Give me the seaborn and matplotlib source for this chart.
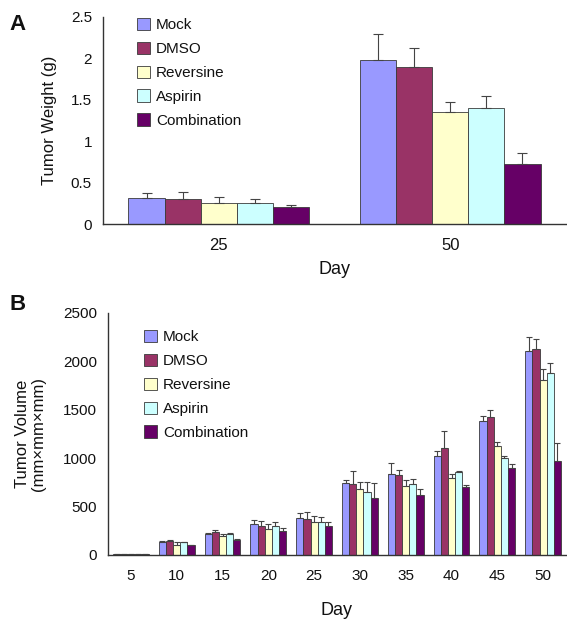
import numpy as np
import pandas as pd
import matplotlib
matplotlib.use("Agg")
import matplotlib.pyplot as plt
import seaborn as sns
from matplotlib.patches import Patch

# ---------------- data ----------------
groups = ["Mock", "DMSO", "Reversine", "Aspirin", "Combination"]
colors = ["#9999FF", "#993366", "#FFFFCC", "#CCFFFF", "#660066"]

# Panel A: tumor weight (g)
days_a = ["25", "50"]
weight_mock = [0.32, 1.98]
weight_dmso = [0.30, 1.90]
weight_reversine = [0.25, 1.35]
weight_aspirin = [0.25, 1.40]
weight_combination = [0.20, 0.73]
weight_err_mock = [0.056, 0.32]
weight_err_dmso = [0.09, 0.23]
weight_err_reversine = [0.08, 0.125]
weight_err_aspirin = [0.05, 0.145]
weight_err_combination = [0.03, 0.125]

# Panel B: tumor volume (mm x mm x mm)
days_b = ["5", "10", "15", "20", "25", "30", "35", "40", "45", "50"]
vol_mock = [10, 134, 213, 316, 386, 744, 840, 1023, 1381, 2108]
vol_dmso = [10, 148, 234, 303, 375, 737, 823, 1106, 1429, 2128]
vol_reversine = [8, 107, 200, 272, 341, 678, 709, 799, 1126, 1805]
vol_aspirin = [10, 134, 217, 296, 341, 654, 730, 861, 1002, 1877]
vol_combination = [8, 100, 155, 244, 303, 589, 620, 699, 902, 971]
vol_err_mock = [2, 10, 14, 45, 44, 34, 114, 55, 55, 141]
vol_err_dmso = [2, 10, 27, 48, 69, 134, 59, 172, 66, 104]
vol_err_reversine = [2, 31, 13, 44, 59, 73, 62, 34, 42, 113]
vol_err_aspirin = [2, 4, 10, 48, 48, 97, 59, 7, 17, 107]
vol_err_combination = [2, 7, 10, 31, 35, 151, 58, 24, 38, 190]

weights = [weight_mock, weight_dmso, weight_reversine, weight_aspirin, weight_combination]
weight_errs = [weight_err_mock, weight_err_dmso, weight_err_reversine,
               weight_err_aspirin, weight_err_combination]
vols = [vol_mock, vol_dmso, vol_reversine, vol_aspirin, vol_combination]
vol_errs = [vol_err_mock, vol_err_dmso, vol_err_reversine,
            vol_err_aspirin, vol_err_combination]


def long_df(days, series):
    rows = []
    for g, vals in zip(groups, series):
        for d, v in zip(days, vals):
            rows.append({"Day": d, "Group": g, "value": v})
    return pd.DataFrame(rows)


sns.set_style("white")
plt.rcParams["font.family"] = ["Liberation Sans", "DejaVu Sans"]
plt.rcParams["text.color"] = "#111111"
plt.rcParams["axes.labelcolor"] = "#111111"
plt.rcParams["xtick.color"] = "#111111"
plt.rcParams["ytick.color"] = "#111111"

fig = plt.figure(figsize=(5.67, 6.19), dpi=100)
ax_a = fig.add_axes([103 / 567, 1 - 224 / 619, (566 - 103) / 567, 207 / 619])
ax_b = fig.add_axes([108 / 567, 1 - 555 / 619, (566 - 108) / 567, 242 / 619])

palette = dict(zip(groups, colors))
axis_col = "#333333"


def draw(ax, days, series, errs, ylim, yticks, yticklabels, capsize, xtick_fs, ytick_fs,
         xlabelpad):
    df = long_df(days, series)
    sns.barplot(data=df, x="Day", y="value", hue="Group", order=days,
                hue_order=groups, palette=palette, width=0.78, gap=0,
                errorbar=None, edgecolor="#3a3a3a", linewidth=0.6,
                saturation=1, legend=False, ax=ax)
    for cont, err in zip(ax.containers, errs):
        xs = [b.get_x() + b.get_width() / 2 for b in cont]
        ys = [b.get_height() for b in cont]
        ax.errorbar(xs, ys, yerr=[np.zeros(len(err)), err], fmt="none",
                    ecolor="#444444", elinewidth=0.8, capsize=capsize,
                    capthick=0.8, zorder=1)
    n = len(days)
    ax.set_xlim(-0.5, n - 0.5)
    ax.set_ylim(*ylim)
    ax.set_yticks(yticks)
    ax.set_yticklabels(yticklabels, fontsize=ytick_fs)
    ax.set_xticks(np.arange(-0.5, n, 1.0))
    ax.set_xticklabels([""] * (n + 1))
    ax.set_xticks(np.arange(n), minor=True)
    ax.set_xticklabels(days, minor=True, fontsize=xtick_fs)
    ax.tick_params(axis="x", which="minor", length=0, pad=10)
    ax.tick_params(axis="x", which="major", length=5, width=1, color=axis_col)
    ax.tick_params(axis="y", length=5, width=1, color=axis_col, pad=3)
    for s in ["top", "right"]:
        ax.spines[s].set_visible(False)
    for s in ["left", "bottom"]:
        ax.spines[s].set_color(axis_col)
        ax.spines[s].set_linewidth(1.0)
    ax.set_xlabel("Day", fontsize=13, labelpad=xlabelpad)
    handles = [Patch(facecolor=c, edgecolor="#3a3a3a", linewidth=0.6) for c in colors]
    return handles


h = draw(ax_a, days_a, weights, weight_errs, (0, 2.5),
         [0, 0.5, 1, 1.5, 2, 2.5], ["0", "0.5", "1", "1.5", "2", "2.5"],
         3.5, 12, 11, 6)
ax_a.set_ylabel("Tumor Weight (g)", fontsize=12, labelpad=10)
ax_a.legend(h, groups, loc="upper left", bbox_to_anchor=(0.06, 1.025),
            frameon=False, fontsize=11, handlelength=0.85, handleheight=0.85,
            handletextpad=0.4, labelspacing=0.62, borderaxespad=0)

h = draw(ax_b, days_b, vols, vol_errs, (0, 2500),
         [0, 500, 1000, 1500, 2000, 2500],
         ["0", "500", "1000", "1500", "2000", "2500"], 2.5, 11, 11, 14)
ax_b.set_ylabel("Tumor Volume\n(mm×mm×mm)", fontsize=12, labelpad=12,
                linespacing=1.1)
ax_b.legend(h, groups, loc="upper left", bbox_to_anchor=(0.065, 0.955),
            frameon=False, fontsize=11, handlelength=0.85, handleheight=0.85,
            handletextpad=0.4, labelspacing=0.62, borderaxespad=0)

fig.text(18 / 567, 1 - 25 / 619, "A", fontsize=16, fontweight="bold",
         ha="center", va="center")
fig.text(18 / 567, 1 - 305 / 619, "B", fontsize=16, fontweight="bold",
         ha="center", va="center")

fig.savefig("out.png", dpi=100, facecolor="white")
